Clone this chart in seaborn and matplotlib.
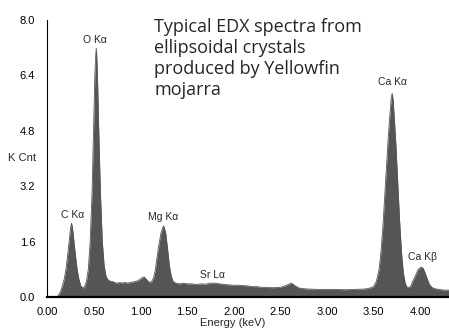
import matplotlib
matplotlib.use("Agg")
import matplotlib.pyplot as plt
import seaborn as sns
import pandas as pd

energy = [0.00, 0.05, 0.10, 0.12, 0.14, 0.16, 0.18, 0.20, 0.22, 0.24, 0.25, 0.26, 0.27, 0.28, 0.30,
          0.32, 0.34, 0.36, 0.38, 0.40, 0.42, 0.44, 0.46, 0.48, 0.50, 0.51, 0.52, 0.525, 0.53, 0.54,
          0.55, 0.57, 0.59, 0.61, 0.63, 0.65, 0.68, 0.70, 0.72, 0.75, 0.78, 0.80, 0.83, 0.86, 0.90,
          0.93, 0.96, 0.99, 1.02, 1.04, 1.06, 1.08, 1.10, 1.12, 1.14, 1.16, 1.18, 1.20, 1.22, 1.24,
          1.25, 1.27, 1.29, 1.31, 1.33, 1.35, 1.38, 1.42, 1.46, 1.50, 1.55, 1.60, 1.65, 1.70, 1.75,
          1.80, 1.85, 1.90, 1.95, 2.00, 2.05, 2.10, 2.15, 2.20, 2.25, 2.30, 2.35, 2.40, 2.45, 2.50,
          2.55, 2.60, 2.62, 2.65, 2.70, 2.75, 2.80, 2.90, 3.00, 3.10, 3.20, 3.30, 3.40, 3.45, 3.50,
          3.53, 3.56, 3.58, 3.60, 3.62, 3.64, 3.66, 3.68, 3.69, 3.70, 3.71, 3.72, 3.74, 3.76, 3.78,
          3.80, 3.82, 3.84, 3.86, 3.88, 3.90, 3.92, 3.95, 3.98, 4.01, 4.03, 4.05, 4.08, 4.10, 4.13,
          4.16, 4.20, 4.25, 4.30, 4.35]
counts = [0.00, 0.00, 0.00, 0.05, 0.15, 0.30, 0.50, 0.80, 1.25, 1.75, 2.00, 2.13, 2.00, 1.75, 1.25,
          0.80, 0.50, 0.32, 0.26, 0.30, 0.45, 0.80, 1.60, 3.00, 5.20, 6.40, 7.00, 7.18, 7.00, 6.20,
          5.00, 3.00, 1.60, 0.90, 0.60, 0.50, 0.45, 0.45, 0.42, 0.40, 0.42, 0.40, 0.42, 0.40, 0.42,
          0.44, 0.46, 0.50, 0.56, 0.58, 0.52, 0.46, 0.42, 0.45, 0.55, 0.80, 1.20, 1.55, 1.85, 2.02,
          2.05, 1.85, 1.40, 0.90, 0.60, 0.45, 0.40, 0.38, 0.40, 0.38, 0.38, 0.36, 0.38, 0.37, 0.40,
          0.40, 0.38, 0.36, 0.35, 0.34, 0.34, 0.33, 0.32, 0.30, 0.30, 0.28, 0.28, 0.27, 0.27, 0.28,
          0.32, 0.38, 0.40, 0.34, 0.26, 0.24, 0.23, 0.22, 0.22, 0.22, 0.21, 0.22, 0.23, 0.25, 0.30,
          0.45, 0.80, 1.30, 2.00, 2.90, 3.80, 4.70, 5.40, 5.75, 5.88, 5.70, 5.30, 4.40, 3.30, 2.20,
          1.30, 0.70, 0.40, 0.28, 0.27, 0.32, 0.45, 0.62, 0.80, 0.86, 0.84, 0.72, 0.50, 0.36, 0.27,
          0.24, 0.22, 0.20, 0.20, 0.20]

peak_labels = ["O K\u03b1", "C K\u03b1", "Mg K\u03b1", "Sr L\u03b1", "Ca K\u03b1", "Ca K\u03b2"]
label_x = [0.51, 0.27, 1.24, 1.77, 3.70, 4.03]
label_y = [7.28, 2.23, 2.17, 0.50, 6.07, 1.00]

x_ticks = [0.0, 0.5, 1.0, 1.5, 2.0, 2.5, 3.0, 3.5, 4.0]
x_tick_labels = ["0.00", "0.50", "1.00", "1.50", "2.00", "2.50", "3.00", "3.50", "4.00"]
y_ticks = [0.0, 1.6, 3.2, 4.8, 6.4, 8.0]
y_tick_labels = ["0.0", "1.6", "3.2", "4.8", "6.4", "8.0"]

title_text = "Typical EDX spectra from\nellipsoidal crystals\nproduced by Yellowfin\nmojarra"

sns.set_style("white")
plt.rcParams['font.family'] = ['Liberation Sans', 'DejaVu Sans']

df = pd.DataFrame({"energy": energy, "counts": counts})
fill_color = "#555555"

fig = plt.figure(figsize=(4.49, 3.31), dpi=100)
ax = fig.add_axes([0.1047, 0.1027, 0.8953, 0.8369])
sns.lineplot(data=df, x="energy", y="counts", ax=ax, color=fill_color, linewidth=0.6)
ax.fill_between(df["energy"], df["counts"], 0, color=fill_color, linewidth=0)

ax.set_xlim(-0.003, 4.31)
ax.set_ylim(0, 8.0)
ax.set_xticks(x_ticks)
ax.set_xticklabels(x_tick_labels, fontsize=8)
ax.set_yticks(y_ticks)
ax.set_yticklabels(y_tick_labels, fontsize=8)
ax.set_xlabel("Energy (keV)", fontsize=8, labelpad=1)
ax.xaxis.set_label_coords((233 - 47) / 402, -0.075)
ax.set_ylabel("")
ax.tick_params(axis="both", direction="out", length=6, width=0.8, pad=2.5, colors="black")
ax.tick_params(axis="x", length=5, pad=2)
for s in ["top", "right"]:
    ax.spines[s].set_visible(False)
ax.spines["left"].set_linewidth(0.8)
ax.spines["left"].set_color("black")
ax.spines["bottom"].set_linewidth(1.6)
ax.spines["bottom"].set_color("black")

fig.text(8 / 449, 1 - 158 / 331, "K Cnt", fontsize=8, ha="left", va="center")

for lab, lx, ly in zip(peak_labels, label_x, label_y):
    ax.text(lx, ly, lab, fontsize=7.5, ha="center", va="bottom")

ax.text(1.15, 8.05, title_text, fontsize=13, ha="left", va="top",
        family=["Open Sans", "DejaVu Sans"], linespacing=1.2)

fig.savefig("out.png", dpi=100)
